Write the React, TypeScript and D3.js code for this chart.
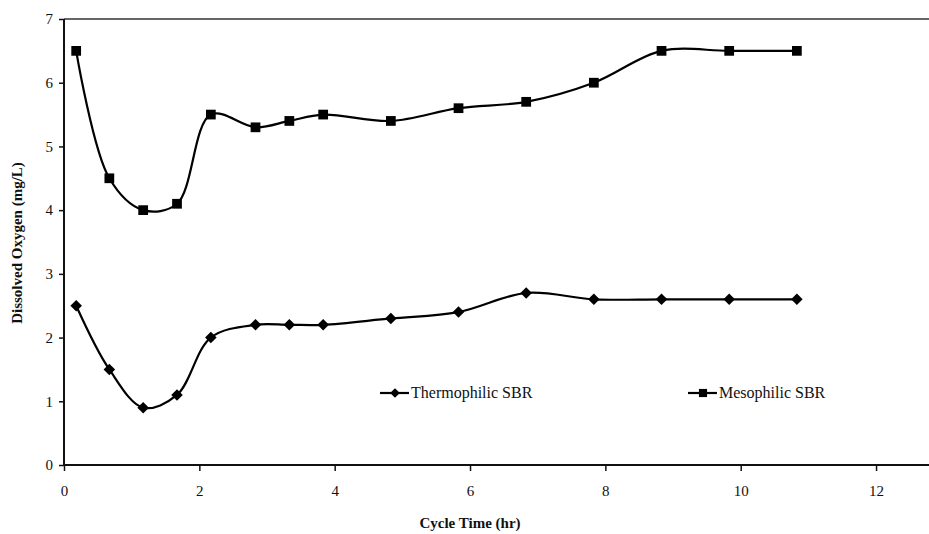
import * as d3 from "d3";
import { useEffect, useRef } from "react";

const cycleTime = [0.18, 0.67, 1.17, 1.67, 2.17, 2.83, 3.33, 3.83, 4.83, 5.83, 6.83, 7.83, 8.83, 9.83, 10.83];
const mesophilic = [6.5, 4.5, 4.0, 4.1, 5.5, 5.3, 5.4, 5.5, 5.4, 5.6, 5.7, 6.0, 6.5, 6.5, 6.5];
const thermophilic = [2.5, 1.5, 0.9, 1.1, 2.0, 2.2, 2.2, 2.2, 2.3, 2.4, 2.7, 2.6, 2.6, 2.6, 2.6];
const xTicks = [0, 2, 4, 6, 8, 10, 12];
const yTicks = [0, 1, 2, 3, 4, 5, 6, 7];

function App() {
    const svgRef = useRef<SVGSVGElement>(null);

    useEffect(() => {
        const svg = d3.select(svgRef.current);
        svg.selectAll("*").remove();

        const width = 929;
        const height = 534;
        const margin = { top: 19, left: 64, bottom: 69 };
        const font = "Liberation Serif, Times New Roman, DejaVu Serif, serif";

        const x = d3.scaleLinear().domain([0, 13]).range([margin.left, margin.left + 13 * 67.67]);
        const y = d3.scaleLinear().domain([0, 7]).range([height - margin.bottom, margin.top]);

        // frame: top border and axes
        svg.append("line")
            .attr("x1", x(0)).attr("x2", width)
            .attr("y1", y(7)).attr("y2", y(7))
            .attr("stroke", "#333").attr("stroke-width", 1.5);

        const xAxis = svg.append("g")
            .attr("transform", `translate(0, ${y(0)})`)
            .call(d3.axisBottom(x).tickValues(xTicks).tickSize(6).tickPadding(14).tickFormat(d3.format("d")));
        xAxis.attr("font-family", font).attr("font-size", 15);
        xAxis.select(".domain").attr("d", `M${x(0)},0H${width}`).attr("stroke", "#111").attr("stroke-width", 2);
        xAxis.selectAll(".tick line").attr("stroke", "#111").attr("stroke-width", 1.5);
        xAxis.selectAll("text").attr("fill", "#111");

        const yAxis = svg.append("g")
            .attr("transform", `translate(${x(0)}, 0)`)
            .call(d3.axisLeft(y).tickValues(yTicks).tickSize(5).tickPadding(6).tickFormat(d3.format("d")));
        yAxis.attr("font-family", font).attr("font-size", 15);
        yAxis.select(".domain").attr("d", `M0,${y(0)}V${y(7)}`).attr("stroke", "#111").attr("stroke-width", 2);
        yAxis.selectAll(".tick line").attr("stroke", "#111").attr("stroke-width", 1.5);
        yAxis.selectAll("text").attr("fill", "#111");

        const line = d3.line<number>()
            .x((_, i) => x(cycleTime[i]))
            .y(d => y(d))
            .curve(d3.curveCatmullRom.alpha(0.5));

        const series = [
            { name: "Thermophilic SBR", values: thermophilic, marker: d3.symbolDiamond2, size: 85 },
            { name: "Mesophilic SBR", values: mesophilic, marker: d3.symbolSquare, size: 95 },
        ];

        series.forEach(s => {
            svg.append("path")
                .attr("d", line(s.values))
                .attr("fill", "none")
                .attr("stroke", "#000")
                .attr("stroke-width", 2.2);

            svg.append("g")
                .selectAll("path")
                .data(s.values)
                .enter()
                .append("path")
                .attr("transform", (d, i) => `translate(${x(cycleTime[i])}, ${y(d)})`)
                .attr("d", d3.symbol().type(s.marker).size(s.size)())
                .attr("fill", "#000");
        });

        // legend
        const legendY = 393;
        const legend = [
            { ...series[0], x0: 380 },
            { ...series[1], x0: 688 },
        ];
        legend.forEach(l => {
            svg.append("line")
                .attr("x1", l.x0).attr("x2", l.x0 + 29)
                .attr("y1", legendY).attr("y2", legendY)
                .attr("stroke", "#000").attr("stroke-width", 2.2);
            svg.append("path")
                .attr("transform", `translate(${l.x0 + 15}, ${legendY})`)
                .attr("d", d3.symbol().type(l.marker).size(l.size * 0.7)())
                .attr("fill", "#000");
            svg.append("text")
                .attr("x", l.x0 + 31)
                .attr("y", legendY + 5)
                .attr("font-family", font)
                .attr("font-size", 16)
                .attr("fill", "#111")
                .text(l.name);
        });

        // x label
        svg.append("text")
            .attr("x", 470)
            .attr("y", 528)
            .attr("text-anchor", "middle")
            .attr("font-family", font)
            .attr("font-size", 15)
            .attr("font-weight", "bold")
            .attr("fill", "#111")
            .text("Cycle Time (hr)");

        // y label
        svg.append("text")
            .attr("transform", "rotate(-90)")
            .attr("x", -243)
            .attr("y", 22)
            .attr("text-anchor", "middle")
            .attr("font-family", font)
            .attr("font-size", 15)
            .attr("font-weight", "bold")
            .attr("fill", "#111")
            .text("Dissolved Oxygen (mg/L)");
    }, []);

    return (
        <svg
            ref={svgRef}
            width={929}
            height={534}
            style={{ position: "absolute", left: 0, top: 0, background: "#fff" }}
        />
    );
}

export default App;
